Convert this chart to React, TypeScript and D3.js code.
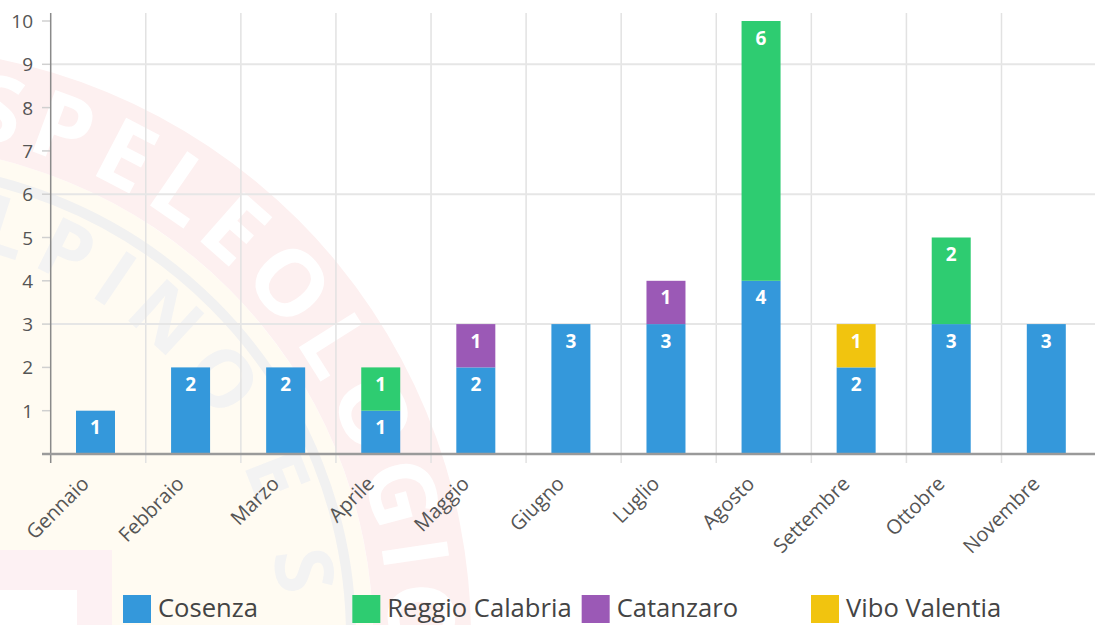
import React from "react";
import * as d3 from "d3";

const months = ["Gennaio", "Febbraio", "Marzo", "Aprile", "Maggio", "Giugno", "Luglio", "Agosto", "Settembre", "Ottobre", "Novembre"];
const seriesNames = ["Cosenza", "Reggio Calabria", "Catanzaro", "Vibo Valentia"];
const seriesColors = ["#3498db", "#2ecc71", "#9b59b6", "#f1c40f"];
const cosenza = [1, 2, 2, 1, 2, 3, 3, 4, 2, 3, 3];
const reggio = [0, 0, 0, 1, 0, 0, 0, 6, 0, 2, 0];
const catanzaro = [0, 0, 0, 0, 1, 0, 1, 0, 0, 0, 0];
const vibo = [0, 0, 0, 0, 0, 0, 0, 0, 1, 0, 0];
const yTickValues = [1, 2, 3, 4, 5, 6, 7, 8, 9, 10];
const yGridValues = [3, 6, 9];

const W = 1095;
const H = 625;
const FONT = "'Open Sans', 'Noto Sans', sans-serif";

export default function App() {
  const rows = months.map((m, i) => ({
    month: m,
    [seriesNames[0]]: cosenza[i],
    [seriesNames[1]]: reggio[i],
    [seriesNames[2]]: catanzaro[i],
    [seriesNames[3]]: vibo[i],
  }));
  const stacked = d3.stack<any>().keys(seriesNames)(rows);

  const left = 50.7;
  const step = 95.08;
  const x = d3.scaleBand<string>().domain(months).range([left, left + step * months.length]).padding(0);
  const y = d3.scaleLinear().domain([0, 10]).range([454, 21]);
  const barOffset = 25.3;
  const barW = 39;

  const legendX = d3.scaleLinear().domain([0, 3]).range([123, 811]);

  // faint watermark geometry
  const cx = -119, cy = 637;
  const arcPath = (r: number, a0: number, a1: number) => {
    const p0 = [cx + r * Math.cos(a0), cy + r * Math.sin(a0)];
    const p1 = [cx + r * Math.cos(a1), cy + r * Math.sin(a1)];
    return `M${p0[0]},${p0[1]} A${r},${r} 0 0 1 ${p1[0]},${p1[1]}`;
  };
  const deg = Math.PI / 180;
  const ring = d3.arc<any>()({ innerRadius: 492, outerRadius: 590, startAngle: -Math.PI, endAngle: Math.PI } as any) as string;

  return (
    <svg width={W} height={H} style={{ position: "absolute", left: 0, top: 0, background: "#fff" }}>
      <defs>
        <path id="wmOuter" d={arcPath(508, -82 * deg, 10 * deg)} />
        <path id="wmInner" d={arcPath(400, -95 * deg, 10 * deg)} />
      </defs>
      <g>
        <circle cx={cx} cy={cy} r={492} fill="#fffbf2" />
        <path d={ring} transform={`translate(${cx},${cy})`} fill="#fdf0f0" />
        <circle cx={cx} cy={cy} r={470} fill="none" stroke="#f1f1f1" strokeWidth={10} />
        <text fontFamily={FONT} fontWeight={700} fontSize={92} fill="#ffffff" letterSpacing={10}>
          <textPath href="#wmOuter" startOffset={14}>SPELEOLOGICO</textPath>
        </text>
        <text fontFamily={FONT} fontWeight={700} fontSize={80} fill="#f3f3f3" letterSpacing={14}>
          <textPath href="#wmInner" startOffset={60}>ALPINO E S</textPath>
        </text>
        <rect x={0} y={550} width={112} height={75} fill="#fdf1f3" />
        <rect x={0} y={590} width={77} height={35} fill="#ffffff" />
      </g>

      {months.map((m, i) => (
        <line key={"vg" + m} x1={x(m) as number} x2={x(m) as number} y1={13} y2={463}
          stroke={i === 0 ? "none" : "#e2e2e2"} strokeWidth={1.5} />
      ))}
      {yGridValues.map((v) => (
        <line key={"hg" + v} x1={left} x2={W} y1={y(v)} y2={y(v)} stroke="#e6e6e6" strokeWidth={2} />
      ))}
      {yTickValues.map((v) => (
        <g key={"yt" + v}>
          <line x1={42} x2={left} y1={y(v)} y2={y(v)} stroke="#d0d0d0" strokeWidth={1.5} />
          <text x={33} y={y(v)} textAnchor="end" dominantBaseline="central" fontFamily={FONT} fontSize={19} fill="#555">{v}</text>
        </g>
      ))}

      {stacked.map((s, si) => (
        <g key={s.key} fill={seriesColors[si]}>
          {s.map((d, i) => {
            const v = d[1] - d[0];
            if (v <= 0) return null;
            const bx = (x(months[i]) as number) + barOffset;
            return (
              <g key={i}>
                <rect x={bx} y={y(d[1])} width={barW} height={y(d[0]) - y(d[1])} />
                <text x={bx + barW / 2} y={y(d[1]) + 16.5} textAnchor="middle" dominantBaseline="central"
                  fontFamily={FONT} fontWeight={700} fontSize={19} fill="#fff">{v}</text>
              </g>
            );
          })}
        </g>
      ))}

      <line x1={left} x2={left} y1={13} y2={463} stroke="#8a8a8a" strokeWidth={1.5} />
      <line x1={42} x2={W} y1={y(0)} y2={y(0)} stroke="#9a9a9a" strokeWidth={2.5} />

      {months.map((m) => {
        const ax = (x(m) as number) + x.bandwidth() / 2 - 8;
        const ay = 485;
        return (
          <text key={"xl" + m} x={ax} y={ay} transform={`rotate(-45 ${ax} ${ay})`} textAnchor="end"
            fontFamily={FONT} fontSize={20} fill="#555">{m}</text>
        );
      })}

      {seriesNames.map((n, i) => (
        <g key={"lg" + n}>
          <rect x={legendX(i)} y={595} width={28} height={28} fill={seriesColors[i]} />
          <text x={legendX(i) + 35} y={617} fontFamily={FONT} fontSize={25.6} fill="#444">{n}</text>
        </g>
      ))}
    </svg>
  );
}
